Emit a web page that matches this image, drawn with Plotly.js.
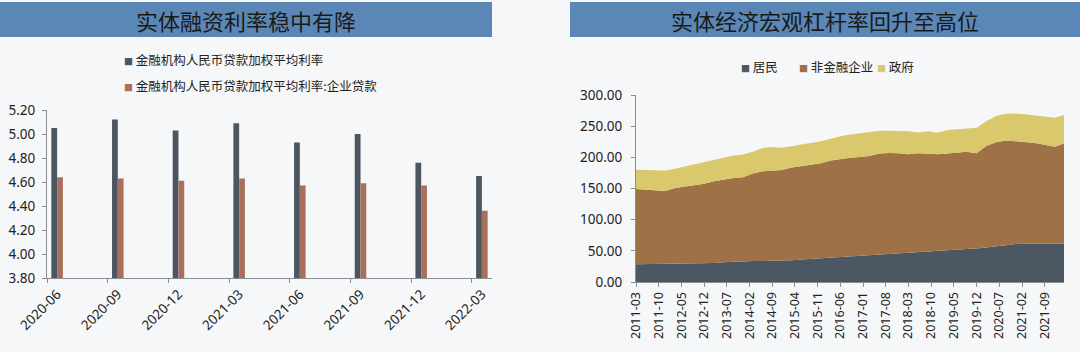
<!DOCTYPE html>
<html>
<head>
<meta charset="utf-8">
<script src="https://cdn.plot.ly/plotly-3.0.1.min.js"></script>
<style>html,body{margin:0;padding:0;background:#f6f7f9;}#chart{width:1080px;height:352px;}</style>
</head>
<body>
<div id="chart"></div>
<script>
// ---- Left chart data ----
const rateCategories = ['2020-06','2020-09','2020-12','2021-03','2021-06','2021-09','2021-12','2022-03'];
const rateAll = [5.05, 5.12, 5.03, 5.09, 4.93, 5.00, 4.76, 4.65];
const rateCorp = [4.64, 4.63, 4.61, 4.63, 4.57, 4.59, 4.57, 4.36];
const rateNames = ['金融机构人民币贷款加权平均利率', '金融机构人民币贷款加权平均利率:企业贷款'];

// ---- Right chart data ----
const quarters = ['2011-03','2011-06','2011-09','2011-12','2012-03','2012-06','2012-09','2012-12',
  '2013-03','2013-06','2013-09','2013-12','2014-03','2014-06','2014-09','2014-12',
  '2015-03','2015-06','2015-09','2015-12','2016-03','2016-06','2016-09','2016-12',
  '2017-03','2017-06','2017-09','2017-12','2018-03','2018-06','2018-09','2018-12',
  '2019-03','2019-06','2019-09','2019-12','2020-03','2020-06','2020-09','2020-12',
  '2021-03','2021-06','2021-09','2021-12','2022-03'];
const household = [28.5,28.6,28.7,28.8,28.9,29.0,29.2,29.5,30.5,31.5,32.5,33.0,33.5,33.7,33.9,34.3,
  35.0,36.0,37.0,38.0,39.2,40.3,41.2,42.3,43.5,44.8,46.0,47.0,47.8,48.5,49.3,50.2,
  51.0,52.0,53.0,53.6,55.0,57.0,59.0,61.0,61.8,61.8,61.7,61.6,61.8];
const corporate = [120.5,119.4,117.3,117.2,122.1,124.0,125.8,128.0,131.0,132.5,134.5,135.0,140.5,143.8,144.6,145.2,
  148.5,150.0,151.0,152.5,155.8,157.2,158.3,158.2,158.5,161.2,161.0,159.5,157.2,158.0,156.2,154.8,
  155.0,155.5,156.0,152.9,163.0,167.0,168.0,165.0,162.7,161.2,158.3,155.4,160.2];
const government = [31,31.5,33,33,30.5,32,33,34.5,34.5,35,36,36.5,35,37.5,38,36,
  34.5,35,35,35.5,35,36.5,37,38,39.5,36.5,35.5,36,37,33.5,36.5,34.5,
  38,37.5,37.5,41,40,42.5,43,44.5,44.5,44,45.5,46.5,46];
const leverageNames = ['居民', '非金融企业', '政府'];
const leverageTicks = ['2011-03','2011-10','2012-05','2012-12','2013-07','2014-02','2014-09','2015-04',
  '2015-11','2016-06','2017-01','2017-08','2018-03','2018-10','2019-05','2019-12','2020-07','2021-02','2021-09'];

const titles = ['实体融资利率稳中有降', '实体经济宏观杠杆率回升至高位'];

// ---- styling ----
const W = 1080, H = 352;
const px = x => x / W;
const py = y => (H - y) / H;
const cDark = '#4b5661', cBrownBar = '#a8705a';
const cArea = ['#4b5763', '#9f7147', '#d9c86c'];
const FONT = 'Noto Sans, Noto Sans CJK SC, sans-serif';
const CJK = 'Noto Sans CJK SC, sans-serif';

const xPos = rateCategories.map((_, i) => i * 3 + 0.5);

const traces = [
  {type: 'bar', x: xPos, y: rateAll, name: rateNames[0], marker: {color: cDark},
   xaxis: 'x', yaxis: 'y', showlegend: false, hoverinfo: 'y'},
  {type: 'bar', x: xPos, y: rateCorp, name: rateNames[1], marker: {color: cBrownBar},
   xaxis: 'x', yaxis: 'y', showlegend: false, hoverinfo: 'y'},
  {type: 'scatter', mode: 'lines', x: quarters, y: household, name: leverageNames[0], stackgroup: 'lev',
   line: {width: 0, color: cArea[0]}, fillcolor: cArea[0], xaxis: 'x2', yaxis: 'y2', showlegend: false},
  {type: 'scatter', mode: 'lines', x: quarters, y: corporate, name: leverageNames[1], stackgroup: 'lev',
   line: {width: 0, color: cArea[1]}, fillcolor: cArea[1], xaxis: 'x2', yaxis: 'y2', showlegend: false},
  {type: 'scatter', mode: 'lines', x: quarters, y: government, name: leverageNames[2], stackgroup: 'lev',
   line: {width: 0, color: cArea[2]}, fillcolor: cArea[2], xaxis: 'x2', yaxis: 'y2', showlegend: false}
];

const axisCommon = {showgrid: false, zeroline: false, showline: true, linecolor: '#8a8e94', linewidth: 1,
  ticks: 'outside', ticklen: 4, tickcolor: '#8a8e94', tickfont: {family: FONT, size: 13.5, color: '#222'}};

const layout = {
  width: W, height: H,
  margin: {l: 0, r: 0, t: 0, b: 0},
  paper_bgcolor: '#f6f7f9', plot_bgcolor: 'rgba(0,0,0,0)',
  showlegend: false,
  barmode: 'group', bargap: 0.81, bargroupgap: 0,
  xaxis: Object.assign({}, axisCommon, {
    domain: [px(47), px(492)], range: [0, 22], type: 'linear',
    tickmode: 'array', tickvals: xPos, ticktext: rateCategories, ticks: '',
    tickangle: -45, tickfont: {family: FONT, size: 13.5, color: '#222'}, ticklabelstandoff: 2,
    minor: {tickmode: 'linear', tick0: 0, dtick: 3, ticks: 'outside', ticklen: 4, tickcolor: '#8a8e94', showgrid: false}
  }),
  yaxis: Object.assign({}, axisCommon, {
    domain: [py(278), py(110)], range: [3.8, 5.2], dtick: 0.2, tick0: 3.8, tickformat: '.2f',
    ticklabelstandoff: 4
  }),
  xaxis2: Object.assign({}, axisCommon, {
    domain: [px(636), px(1064)], type: 'date', range: ['2011-03-01', '2022-03-01'],
    tickmode: 'array', tickvals: leverageTicks, ticktext: leverageTicks, tickangle: -90,
    tickfont: {family: FONT, size: 12.5, color: '#222'}, anchor: 'y2'
  }),
  yaxis2: Object.assign({}, axisCommon, {
    domain: [py(282), py(95)], range: [0, 300], dtick: 50, tickformat: '.2f', anchor: 'x2',
    ticklabelstandoff: 6
  }),
  shapes: [
    {type: 'rect', xref: 'paper', yref: 'paper', x0: 0, x1: px(492), y0: py(37), y1: py(2),
     fillcolor: '#5a87b5', line: {width: 0}, layer: 'below'},
    {type: 'rect', xref: 'paper', yref: 'paper', x0: px(570), x1: 1, y0: py(37), y1: py(2),
     fillcolor: '#5a87b5', line: {width: 0}, layer: 'below'}
  ],
  annotations: [
    {xref: 'paper', yref: 'paper', x: px(246), y: py(19.5), xanchor: 'center', yanchor: 'middle',
     text: titles[0], showarrow: false, font: {family: CJK, size: 22, color: '#1a1a1a'}},
    {xref: 'paper', yref: 'paper', x: px(825), y: py(19.5), xanchor: 'center', yanchor: 'middle',
     text: titles[1], showarrow: false, font: {family: CJK, size: 22, color: '#1a1a1a'}},
    {xref: 'paper', yref: 'paper', x: px(122), y: py(60), xanchor: 'left', yanchor: 'middle', showarrow: false,
     text: '<span style="color:' + cDark + ';font-size:9px">■</span> ' + rateNames[0], font: {family: CJK, size: 12.5, color: '#222'}},
    {xref: 'paper', yref: 'paper', x: px(122), y: py(85), xanchor: 'left', yanchor: 'middle', showarrow: false,
     text: '<span style="color:' + cBrownBar + ';font-size:9px">■</span> ' + rateNames[1], font: {family: CJK, size: 12.5, color: '#222'}},
    {xref: 'paper', yref: 'paper', x: px(739), y: py(66), xanchor: 'left', yanchor: 'middle', showarrow: false,
     text: '<span style="color:' + cArea[0] + ';font-size:9px">■</span> ' + leverageNames[0], font: {family: CJK, size: 12.5, color: '#222'}},
    {xref: 'paper', yref: 'paper', x: px(797), y: py(66), xanchor: 'left', yanchor: 'middle', showarrow: false,
     text: '<span style="color:' + cArea[1] + ';font-size:9px">■</span> ' + leverageNames[1], font: {family: CJK, size: 12.5, color: '#222'}},
    {xref: 'paper', yref: 'paper', x: px(875), y: py(66), xanchor: 'left', yanchor: 'middle', showarrow: false,
     text: '<span style="color:' + cArea[2] + ';font-size:9px">■</span> ' + leverageNames[2], font: {family: CJK, size: 12.5, color: '#222'}}
  ]
};

Plotly.newPlot('chart', traces, layout, {displayModeBar: false, staticPlot: true});
</script>
</body>
</html>
